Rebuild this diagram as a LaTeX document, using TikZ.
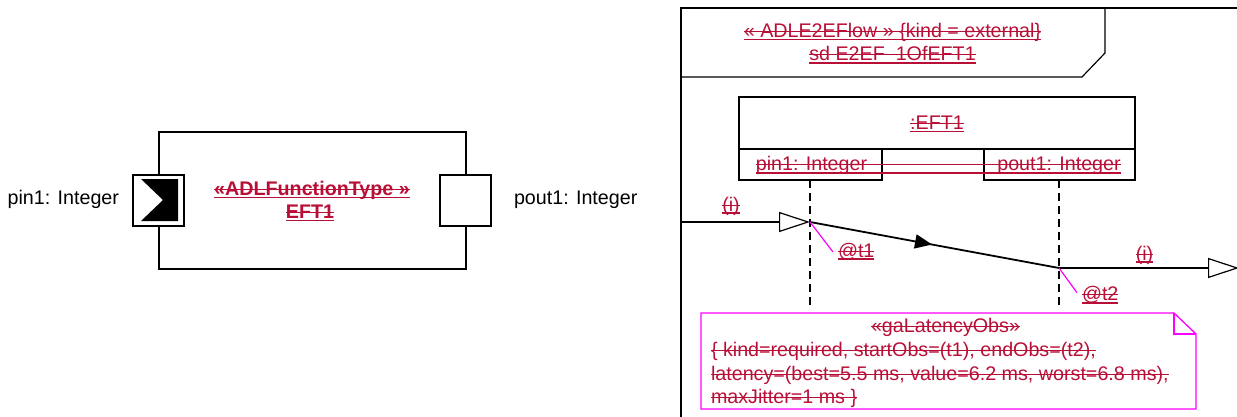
\documentclass[tikz,border=0pt]{standalone}
\usepackage{fontspec}
\setmainfont{Liberation Sans}
\usetikzlibrary{arrows.meta,decorations.markings}
\definecolor{crim}{RGB}{185,15,55}
\definecolor{mag}{RGB}{255,0,255}
\tikzset{
  txt/.style={inner sep=0pt, outer sep=0pt, font=\fontsize{19.7}{23}\selectfont},
  rtxt/.style={txt, text=crim},
  boxn/.style={draw, inner sep=0pt, outer sep=0pt, fill=white},
  ul/.style={crim, line width=1.6pt},
  so/.style={crim, line width=1pt},
  msg/.style={line width=1.2pt},
  openhead/.style={-{Triangle[open,length=31pt,width=20pt]}, fill=white},
  midarrow/.style={postaction={decorate}, decoration={markings,
     mark=at position 0.49 with {\arrow{Triangle[length=17pt,width=14pt]}}}},
  lifel/.style={line width=1.5pt, dash pattern=on 8pt off 5pt},
}
\newcommand\ULS[1]{%
  \draw[ul] ([yshift=-2pt]#1.base west) -- ([yshift=-2pt]#1.base east);
  \draw[so] ([yshift=6pt]#1.base west) -- ([yshift=6pt]#1.base east);}
\newcommand\SO[1]{%
  \draw[so] ([yshift=6pt]#1.base west) -- ([yshift=6pt]#1.base east);}
\begin{document}
\begin{tikzpicture}[x=1pt,y=-1pt]
\useasboundingbox (0,0) rectangle (1237,417);
\clip (0,0) rectangle (1237,417);

% ---------- left: function type ----------
\node[boxn, line width=1.8pt, minimum width=307pt, minimum height=137pt] (comp) at (312.5,200.5) {};
\node[boxn, line width=1.3pt, minimum width=51pt, minimum height=51pt] (pinport) at (158.5,200.5) {};
\node[boxn, line width=1.3pt, minimum width=51pt, minimum height=51pt] (poutport) at (465.5,200.5) {};
\fill (141,179) -- (178,179) -- (178,221) -- (141,221) -- (163,200) -- cycle;
\node[txt, anchor=base east] (pinlbl) at (119,204.5) {pin1: Integer};
\node[txt, anchor=base west] (poutlbl) at (514,204.5) {pout1: Integer};
\node[rtxt, font=\fontsize{19.7}{23}\selectfont\bfseries, anchor=base] (stereo) at (312,195.3) {«ADLFunctionType »\ };
\ULS{stereo}
\node[rtxt, font=\fontsize{19.7}{23}\selectfont\bfseries, anchor=base] (eft) at (310,218.5) {EFT1};
\ULS{eft}

% ---------- right: sequence frame ----------
\draw[line width=1.2pt] (1245,8) -- (681,8) -- (681,425);
\draw[line width=1.2pt] (681,77) -- (1082,77) -- (1105,53) -- (1105,8);
\node[rtxt, anchor=base] (h1) at (892.5,37.5) {« ADLE2EFlow » \{kind = external\}};
\ULS{h1}
\node[rtxt, anchor=base] (h2) at (892.5,61) {sd E2EF\_1OfEFT1};
\ULS{h2}

% lifeline head
\node[boxn, line width=1.6pt, minimum width=396pt, minimum height=52pt] (head) at (937,123) {};
\node[boxn, line width=1.6pt, minimum width=143pt, minimum height=31pt] (pinbox) at (810.5,164.5) {};
\node[boxn, line width=1.6pt, minimum width=151pt, minimum height=31pt] (poutbox) at (1059.5,164.5) {};
\draw[line width=1.6pt] (head.south west) -- (head.south east);
\node[rtxt, anchor=base] (eftinst) at (937,129.5) {:EFT1};
\ULS{eftinst}
\node[rtxt, anchor=base] (pintxt) at (811.5,171) {pin1: Integer};
\node[rtxt, anchor=base] (pouttxt) at (1059,171) {pout1: Integer};
\draw[ul] ([yshift=-2pt]pintxt.base west) -- ([yshift=-2pt]pouttxt.base east);
\draw[so] ([yshift=6pt]pintxt.base west) -- ([yshift=6pt]pouttxt.base east);

% lifelines
\coordinate (l1end) at (810,305);
\coordinate (l2end) at (1059,305);
\draw[lifel] (810,180) -- (l1end);
\draw[lifel] (1059,180) -- (l2end);

% messages
\coordinate (in) at (681,222);
\coordinate (t1) at (810,222);
\coordinate (t2) at (1059,268);
\coordinate (out) at (1239,268);
\draw[msg, openhead] (in) -- (t1);
\draw[line width=1.8pt, midarrow] (t1) -- (t2);
\draw[msg, openhead] (t2) -- (out);
\node[rtxt, anchor=base] (i1) at (731,211) {(i)};
\ULS{i1}
\node[rtxt, anchor=base] (i2) at (1144.5,260) {(i)};
\ULS{i2}

% time observations
\node[rtxt, anchor=base west] (at1) at (838,257) {@t1};
\ULS{at1}
\node[rtxt, anchor=base west] (at2) at (1082,300.7) {@t2};
\ULS{at2}
\draw[mag, line width=1.2pt] (t1) -- ([xshift=-5pt,yshift=5pt]at1.base west);
\draw[mag, line width=1.2pt] (t2) -- ([xshift=-5pt,yshift=8pt]at2.base west);

% note
\draw[mag, line width=1.3pt, fill=white] (701,313) -- (1174,313) -- (1196,334) -- (1196,409) -- (701,409) -- cycle;
\draw[mag, line width=1.3pt] (1174,313) -- (1174,334) -- (1196,334);
\node[rtxt, anchor=base] (n1) at (945.5,332.7) {«gaLatencyObs»};
\SO{n1}
\node[rtxt, anchor=base west] (n2) at (711,356) {\{ kind=required, startObs=(t1), endObs=(t2),\ };
\SO{n2}
\node[rtxt, anchor=base west] (n3) at (711,380) {latency=(best=5.5 ms, value=6.2 ms, worst=6.8 ms),\ };
\SO{n3}
\node[rtxt, anchor=base west] (n4) at (711,403.3) {maxJitter=1 ms \}};
\SO{n4}
\end{tikzpicture}
\end{document}
